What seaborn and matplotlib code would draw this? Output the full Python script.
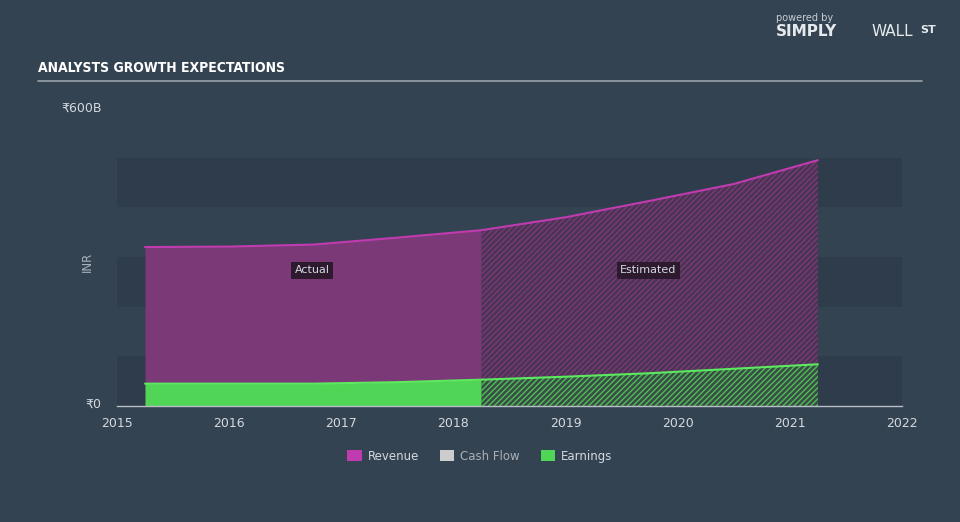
import matplotlib
matplotlib.use('Agg')
import matplotlib.pyplot as plt
import seaborn as sns
import pandas as pd

# values (INR, billions)
years = [2015.25, 2016.0, 2016.75, 2017.5, 2018.25, 2019.0, 2019.75, 2020.5, 2021.25]
revenue = [320, 321, 325, 339, 354, 380, 413, 447, 495]
earnings = [45, 45, 45, 48, 53, 59, 66, 75, 84]
split_year = 2018.25
x_ticks = [2015, 2016, 2017, 2018, 2019, 2020, 2021, 2022]
legend_labels = ['Revenue', 'Cash Flow', 'Earnings']

bg = '#344352'
band_dark = '#2f3c4b'
rev_fill = '#7b3977'
rev_line = '#c13bb0'
rev_est = '#4a3454'
earn_fill = '#50d556'
earn_line = '#5ce85f'
earn_est = '#3a4b48'
text_col = '#d5d9de'

sns.set_style('dark', {'axes.facecolor': bg, 'figure.facecolor': bg})
plt.rcParams['font.family'] = ['DejaVu Sans']
plt.rcParams['hatch.linewidth'] = 1.0

df = pd.DataFrame({'year': years, 'revenue': revenue, 'earnings': earnings})
act = df[df['year'] <= split_year]
est = df[df['year'] >= split_year]

fig = plt.figure(figsize=(9.6, 5.22), dpi=100)
ax = fig.add_axes([117 / 960, 1 - 406 / 522, 785 / 960, 298 / 522])
ax.set_facecolor(bg)

# alternating bands
for lo in [0, 200, 400]:
    ax.axhspan(lo, lo + 100, color=band_dark, lw=0, zorder=0)

# actual fills
ax.fill_between(act['year'], 0, act['revenue'], color=rev_fill, lw=0, zorder=1)
ax.fill_between(act['year'], 0, act['earnings'], color=earn_fill, lw=0, zorder=2)
# estimated fills (hatched)
ax.fill_between(est['year'], 0, est['revenue'], facecolor=rev_est,
                edgecolor=rev_fill, hatch='//////', lw=0, zorder=1)
ax.fill_between(est['year'], 0, est['earnings'], facecolor=earn_est,
                edgecolor='#4cc052', hatch='//////', lw=0, zorder=2)

sns.lineplot(data=df, x='year', y='revenue', color=rev_line, lw=1.5, ax=ax, zorder=3)
sns.lineplot(data=df, x='year', y='earnings', color=earn_line, lw=1.5, ax=ax, zorder=3)

ax.set_xlim(2015, 2022)
ax.set_ylim(0, 600)
ax.set_xticks(x_ticks)
ax.set_xticklabels([str(t) for t in x_ticks], color=text_col, fontsize=9)
ax.set_yticks([])
ax.tick_params(axis='x', direction='out', length=5, width=1, color='#b8bec6', pad=3)
for s in ['top', 'right', 'left']:
    ax.spines[s].set_visible(False)
ax.spines['bottom'].set_color('#b8bec6')
ax.spines['bottom'].set_linewidth(1)
ax.set_xlabel('')
ax.set_ylabel('')
ax.grid(False)

# y labels at 0 and 600B
fig.text(101 / 960, 1 - 404 / 522, '₹0', color=text_col, fontsize=9, ha='right', va='center')
fig.text(102 / 960, 1 - 108 / 522, '₹600B', color=text_col, fontsize=9, ha='right', va='center')
fig.text(87 / 960, 1 - 262 / 522, 'INR', color='#aab2bb', fontsize=8.5, rotation=90,
         ha='center', va='center')

# actual / estimated tags
box = dict(boxstyle='square,pad=0.3', fc='#2d1a2f', ec='none')
ax.text(2016.74, 273, 'Actual', color=text_col, fontsize=8, ha='center', va='center', bbox=box, zorder=5)
ax.text(2019.74, 273, 'Estimated', color=text_col, fontsize=8, ha='center', va='center', bbox=box, zorder=5)

# title and rule
fig.text(38 / 960, 1 - 68 / 522, 'ANALYSTS GROWTH EXPECTATIONS', color='white', fontsize=10,
         fontweight='bold', fontstretch='condensed', family=['DejaVu Sans'],
         ha='left', va='center')
fig.add_artist(plt.Line2D([38 / 960, 922 / 960], [1 - 81 / 522, 1 - 81 / 522],
                          color='#9aa3ad', lw=1.2))

# branding
fig.text(805 / 960, 1 - 18 / 522, 'powered by', color='#c9ced4', fontsize=7, ha='center', va='center')
fig.text(776 / 960, 1 - 32 / 522, 'SIMPLY', color='#e6e9ec', fontsize=11, fontweight='bold',
         ha='left', va='center')
fig.text(872 / 960, 1 - 32 / 522, 'WALL', color='#e6e9ec', fontsize=11, ha='left', va='center')
fig.text(920 / 960, 1 - 30 / 522, 'ST', color='#e6e9ec', fontsize=8, fontweight='bold',
         ha='left', va='center')

# legend
legend_colors = [rev_line, '#cccccc', earn_fill]
handles = [plt.Rectangle((0, 0), 1, 1, fc=c, ec='none') for c in legend_colors]
leg = fig.legend(handles, legend_labels, loc='center', bbox_to_anchor=(0.5, 1 - 456 / 522),
                 ncol=3, frameon=False, fontsize=8.5, handlelength=1.2, handleheight=1.0,
                 columnspacing=1.8, handletextpad=0.5)
for t, c in zip(leg.get_texts(), [text_col, '#aab0b7', text_col]):
    t.set_color(c)

fig.savefig('out.png', dpi=100, facecolor=bg)
